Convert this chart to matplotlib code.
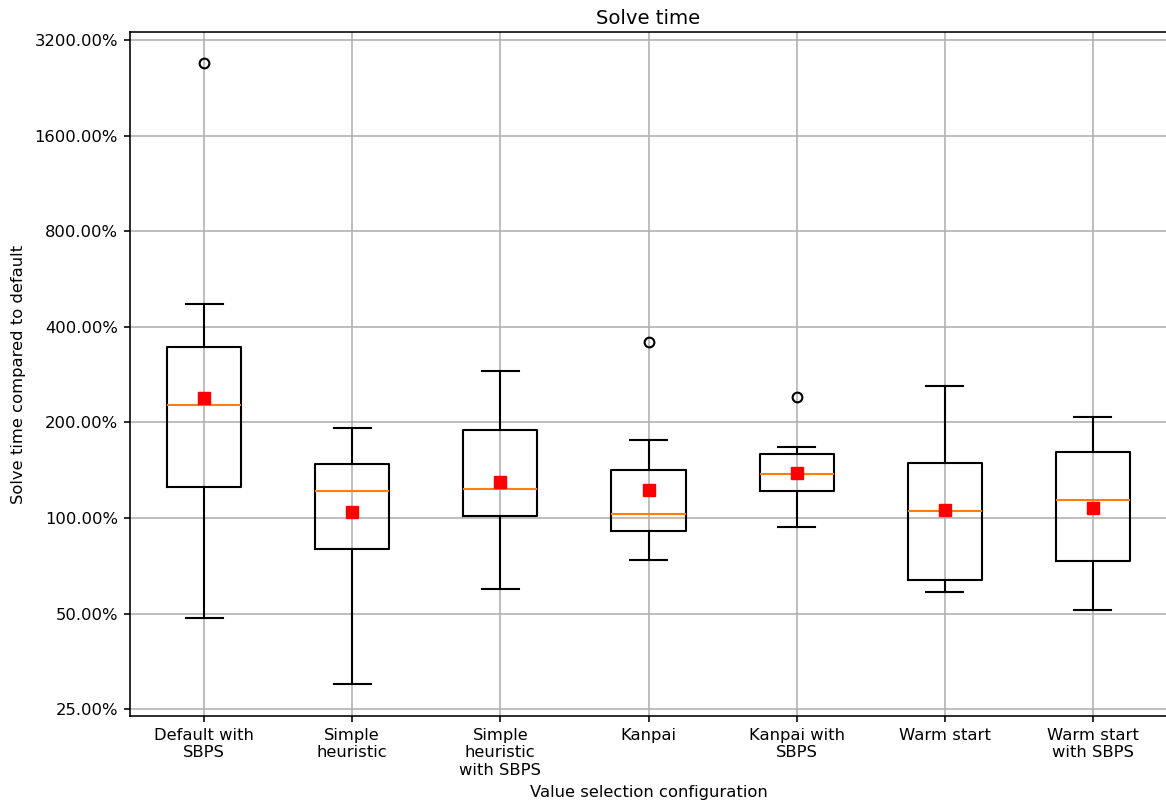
import matplotlib
matplotlib.use("Agg")
import matplotlib.pyplot as plt
from matplotlib.ticker import FixedLocator, FuncFormatter, NullLocator

# Box statistics (percent of default solve time)
configs = ["Default with\nSBPS", "Simple\nheuristic", "Simple\nheuristic\nwith SBPS",
           "Kanpai", "Kanpai with\nSBPS", "Warm start", "Warm start\nwith SBPS"]
whislo = [48.4, 30.0, 59.7, 73.7, 93.6, 58.4, 51.3]
q1 = [125.0, 79.8, 101.3, 90.9, 121.5, 63.7, 73.1]
med = [226.8, 121.5, 123.3, 102.8, 137.5, 105.1, 113.9]
q3 = [345.0, 147.8, 189.0, 141.5, 158.9, 148.9, 161.0]
whishi = [472.0, 191.9, 290.0, 176.0, 167.0, 260.0, 207.8]
means = [238.6, 104.3, 129.7, 122.4, 138.4, 105.8, 107.4]
fliers = [[2710.0], [], [], [358.0], [240.0], [], []]

yticks = [25, 50, 100, 200, 400, 800, 1600, 3200]

scale = 1.16
plt.rcParams["font.size"] = 11.8

stats = []
for i in range(len(configs)):
    stats.append(dict(whislo=whislo[i], q1=q1[i], med=med[i], q3=q3[i],
                      whishi=whishi[i], mean=means[i], fliers=fliers[i]))

fig = plt.figure(figsize=(11.66, 8.07), dpi=100)
ax = fig.add_axes([130 / 1166, 1 - 716 / 807, 1037 / 1166, (716 - 32) / 807])

lw = 1.0 * scale
ax.bxp(stats, showmeans=True,
       boxprops=dict(linewidth=lw * 1.3, color="black"),
       whiskerprops=dict(linewidth=lw * 1.3, color="black"),
       capprops=dict(linewidth=lw * 1.3, color="black"),
       medianprops=dict(linewidth=lw * 1.3, color="C1"),
       meanprops=dict(marker="s", markerfacecolor="red", markeredgecolor="red",
                      markersize=8),
       flierprops=dict(marker="o", markerfacecolor="none", markeredgecolor="black",
                       markersize=7, markeredgewidth=lw * 1.3))

ax.set_yscale("log", base=2)
ax.yaxis.set_major_locator(FixedLocator(yticks))
ax.yaxis.set_minor_locator(NullLocator())
ax.yaxis.set_major_formatter(FuncFormatter(lambda v, p: "%.2f%%" % v))
ax.set_ylim(23.8, 3390)
ax.set_xticks(range(1, len(configs) + 1))
ax.set_xticklabels(configs)
ax.grid(True, color="#b0b0b0", linewidth=lw)
ax.set_axisbelow(True)
for s in ax.spines.values():
    s.set_linewidth(lw)
ax.tick_params(width=lw, length=3.5 * scale, pad=4.5)

ax.set_title("Solve time")
ax.set_xlabel("Value selection configuration", labelpad=5)
ax.set_ylabel("Solve time compared to default", labelpad=6)

fig.savefig("out.png", dpi=100)
